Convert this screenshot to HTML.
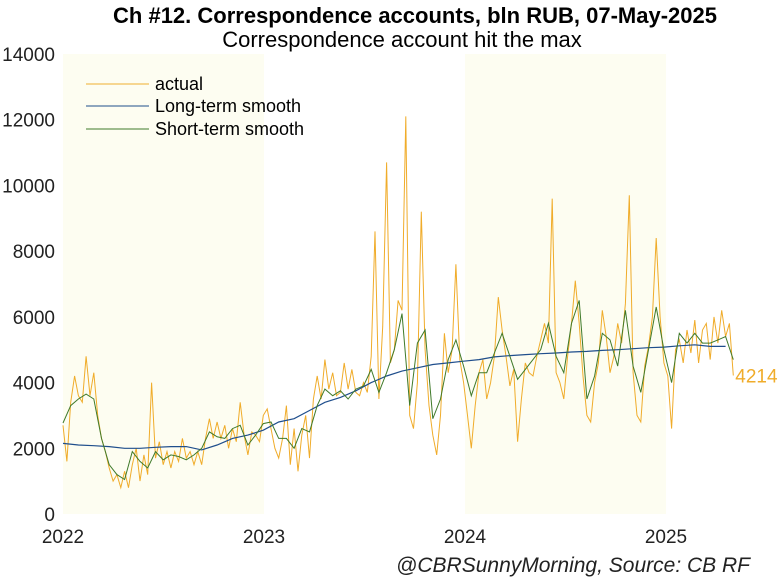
<!DOCTYPE html>
<html><head><meta charset="utf-8"><style>
body{margin:0;background:#fff;width:782px;height:578px;overflow:hidden;font-family:"Liberation Sans",Arial,sans-serif}
svg text{font-family:"Liberation Sans",Arial,sans-serif}
</style></head><body>
<svg id="chart" width="782" height="578" viewBox="0 0 782 578" xmlns="http://www.w3.org/2000/svg">
<text x="415" y="23" text-anchor="middle" font-size="22" font-weight="bold" fill="#000">Ch #12. Correspondence accounts, bln RUB, 07-May-2025</text>
<text x="402" y="47" text-anchor="middle" font-size="22" fill="#000">Correspondence account hit the max</text>
<g id="shade"></g>
<g id="yaxis"></g>
<g id="xaxis"></g>
<g id="series"></g>
<g>
<line x1="86" y1="84" x2="149" y2="84" stroke="#f0b030" stroke-width="1"/>
<text x="155" y="90" font-size="18">actual</text>
<line x1="86" y1="106" x2="149" y2="106" stroke="#1f4e8c" stroke-width="1"/>
<text x="155" y="112" font-size="18">Long-term smooth</text>
<line x1="86" y1="129" x2="149" y2="129" stroke="#3f7a2a" stroke-width="1"/>
<text x="155" y="135" font-size="18">Short-term smooth</text>
</g>
<text x="750" y="572" text-anchor="end" font-size="21" font-style="italic" fill="#222">@CBRSunnyMorning, Source: CB RF</text>
</svg>
<script>
const startYear = 2022;
const actualStepDays = 7;
const actualValues = [2700,1600,3400,4200,3600,3400,4800,3600,4300,3000,2300,1900,1400,1000,1200,800,1300,800,1500,2000,1000,1800,1200,4000,1700,2200,1500,1900,1400,1900,1600,2300,1700,1900,1500,1900,1500,2300,2900,2300,2800,2300,2700,2000,2600,2200,3400,2400,1800,2500,2400,2200,3000,3200,2600,2000,1700,2300,3300,1500,2600,1300,2400,3000,1700,3500,4200,3500,4700,3800,4300,3600,3700,4600,3800,4400,3700,3600,4000,3700,4800,8600,3500,5700,10700,4600,5000,6500,6200,12100,3000,2600,4000,9200,5000,3300,2400,1800,3000,5500,4300,5000,7600,4700,4000,3000,2000,3300,4300,4700,3500,4000,4800,6600,5600,4800,3900,4400,2200,3500,4600,4300,4200,4800,5300,5800,5200,9600,4300,4000,3500,4800,5800,7100,5800,4200,3000,2800,4000,4600,6200,5400,4300,4800,5800,5200,6400,9700,4300,3000,2800,4500,5100,6000,8400,6000,4600,4200,2600,5000,5300,4600,5600,4900,5900,4600,5600,5800,4700,6000,5200,6200,5400,5800,4214];
const shortStepDays = 14;
const shortValues = [2770,3300,3500,3650,3500,2300,1500,1200,1050,1900,1600,1400,1900,1650,1800,1750,1650,1800,2000,2500,2350,2300,2600,2700,2100,2400,2750,2800,2300,2300,2000,2600,2500,3300,3800,3600,3750,3500,3800,3900,4400,3700,4300,5000,6100,3300,5200,5600,2900,3500,4700,5300,4500,3600,4300,4300,4900,5500,4800,4100,4400,4700,5000,5800,4800,4300,5800,6500,3500,4200,5500,5300,4500,6200,4500,3700,5000,6300,5000,4000,5500,5200,5500,5200,5200,5300,5400,4700];
const longStepDays = 28;
const longValues = [2150,2100,2080,2050,2000,2000,2030,2050,2050,1950,2100,2300,2400,2550,2800,2900,3150,3400,3550,3750,4000,4200,4350,4450,4550,4600,4650,4700,4780,4820,4850,4880,4900,4930,4950,4980,5000,5030,5060,5080,5120,5150,5100,5100];
const yTicks = [0,2000,4000,6000,8000,10000,12000,14000];
const xTickYears = [2022,2023,2024,2025];
const shadedYears = [2022,2024];
const lastLabel = "4214";

const X0=63, PXY=201, Y0=514, PXV=460/14000;
const xScale = yr => X0 + (yr-startYear)*PXY;
const yScale = v => Y0 - v*PXV;
const dayToYear = d => startYear + d/365.25;
const NS="http://www.w3.org/2000/svg";
function mk(tag, attrs, parent){const e=document.createElementNS(NS,tag);for(const k in attrs)e.setAttribute(k,attrs[k]);parent.appendChild(e);return e;}

const shade=document.getElementById('shade');
shadedYears.forEach(y=>{
  const r=mk('rect',{x:xScale(y),y:yScale(14000),width:xScale(y+1)-xScale(y),height:yScale(0)-yScale(14000),fill:'#fdfdf1'},shade);
  
  
});
const ya=document.getElementById('yaxis');
yTicks.forEach(v=>{
  const t=mk('text',{x:55,y:yScale(v)+7,'text-anchor':'end','font-size':19,fill:'#222'},ya);
  t.textContent=v;
  
  
});
const xa=document.getElementById('xaxis');
xTickYears.forEach(y=>{
  const t=mk('text',{x:xScale(y),y:543,'text-anchor':'middle','font-size':19,fill:'#222'},xa);
  t.textContent=y;
  
  
});
function path(vals, step){
  return vals.map((v,i)=>(i?'L':'M')+xScale(dayToYear(i*step)).toFixed(1)+','+yScale(v).toFixed(1)).join('');
}
const sg=document.getElementById('series');
const pa=mk('path',{d:path(actualValues,actualStepDays),fill:'none',stroke:'#f0ac2a','stroke-width':1},sg);


const pl=mk('path',{d:path(longValues,longStepDays),fill:'none',stroke:'#1f4e8c','stroke-width':1.2},sg);


const ps=mk('path',{d:path(shortValues,shortStepDays),fill:'none',stroke:'#3f7a2a','stroke-width':1},sg);


const li=actualValues.length-1;
const lt=mk('text',{x:xScale(dayToYear(li*actualStepDays))+2,y:yScale(actualValues[li])+7,'font-size':19,fill:'#f0ac2a'},sg);
lt.textContent=lastLabel;


</script>
</body></html>
